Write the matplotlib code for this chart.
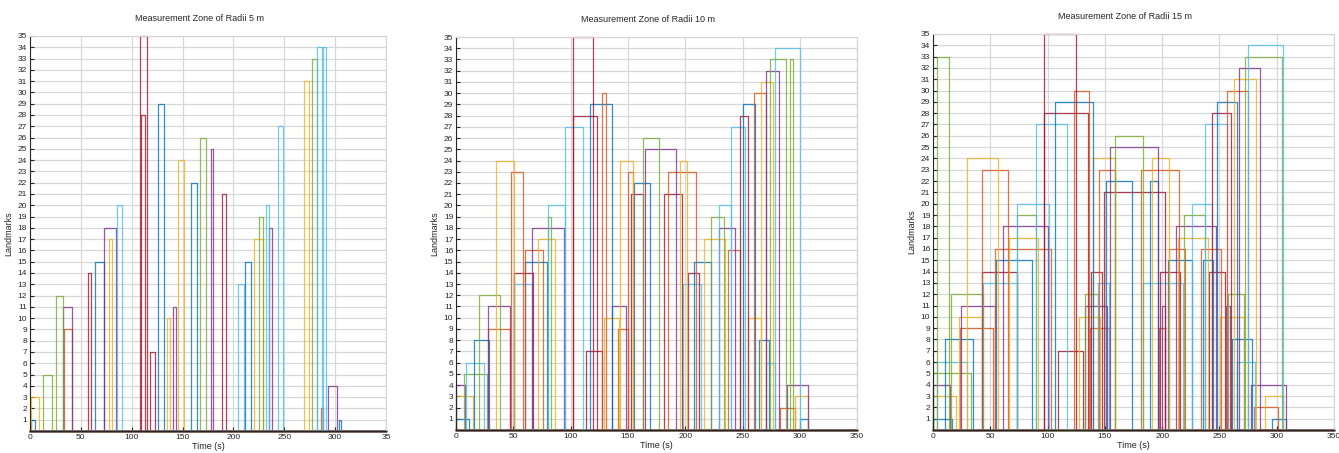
import matplotlib
matplotlib.use('Agg')
import matplotlib.pyplot as plt

plt.rcParams['font.family'] = ['Liberation Sans', 'DejaVu Sans']

# time window during which each landmark is inside the measurement zone
# (landmark id, enter time, leave time) read off the figure
lm_5 = [1, 1, 2, 3, 4, 5, 7, 9, 10, 11, 11, 12, 13, 14, 15, 15, 17, 17,
        18, 18, 19, 20, 20, 21, 22, 24, 25, 26, 27, 28, 29, 31, 33, 34, 34, 35]
t_in_5 = [1, 304, 286, 0.7, 293.3, 12.5, 118.3, 33.8, 134.4, 32.8, 141, 25.2,
          204.2, 57.4, 63.9, 211.1, 77.4, 220.6, 73.1, 235.3, 225.2, 85.2,
          231.7, 188.5, 158, 145.9, 178, 167.5, 243.9, 109.5, 126.2, 269.4,
          277.6, 281.9, 288.4, 108.5]
t_out_5 = [5, 306, 288.4, 9.2, 302.2, 21.3, 123.2, 41.3, 137.3, 41, 143.2,
           32.8, 210.8, 60.3, 73.1, 217.3, 80.3, 229.4, 84.6, 237.6, 229.4,
           90.5, 235.3, 192.7, 163.9, 151.1, 179.6, 173.4, 249.1, 112.7,
           131.4, 274, 281.9, 287.1, 291, 114.7]

lm_10 = [1, 1, 2, 3, 3, 4, 4, 5, 6, 6, 7, 8, 8, 9, 9, 10, 10, 11, 11, 12,
         13, 13, 14, 14, 15, 15, 16, 16, 17, 17, 18, 18, 19, 19, 20, 20,
         21, 21, 22, 23, 23, 23, 24, 24, 24, 25, 26, 27, 27, 28, 28, 29, 29,
         30, 30, 31, 32, 33, 33, 34, 35]
t_in_10 = [0, 299.9, 283, 0, 296.1, 0, 288.8, 7, 8.7, 270.2, 113.8, 15.4,
           264.4, 28, 141, 129.5, 254.8, 28, 136, 19.8, 50.3, 198, 50.3,
           202.1, 60, 207.7, 60, 237, 71.6, 216.7, 66.6, 229.8, 80, 222.2,
           80, 229.2, 153, 181.2, 155, 47.7, 149.8, 184.7, 35.2, 142.9, 195.1,
           164.7, 163.2, 94.8, 240.2, 101.8, 247.8, 116.7, 250.4, 127.4,
           259.7, 266.1, 270.5, 274.3, 291.7, 278.3, 101.8]
t_out_10 = [11, 307.1, 296.1, 14.5, 307.1, 7.6, 307.1, 27, 24.7, 278.3,
            127.4, 29, 273.4, 46.8, 150, 142, 266.1, 47.4, 148, 38.7, 66.3,
            214, 67, 212.3, 79.4, 222.2, 76, 247.8, 86.4, 234.4, 94.3, 243.1,
            83.2, 233.8, 94.8, 240.2, 163.2, 197.2, 169, 58.2, 154.5, 209.7,
            50.9, 154.5, 201.8, 192, 177.4, 110.6, 252.5, 122.8, 254.5, 136.5,
            260.9, 131, 270.8, 276.6, 281.8, 288.2, 294.1, 299.9, 119.3]

lm_15 = [1, 1, 2, 3, 3, 4, 4, 5, 6, 6, 7, 8, 8, 9, 9, 9, 10, 10, 10,
         11, 11, 11, 11, 12, 12, 12, 13, 13, 13, 14, 14, 14, 14, 15, 15, 15,
         16, 16, 16, 17, 17, 18, 18, 19, 19, 20, 20, 21, 22, 22, 23, 23, 23,
         24, 24, 24, 25, 26, 27, 27, 28, 28, 29, 29, 30, 30, 31, 32, 33, 33,
         34, 35]
t_in_15 = [0, 295.5, 280.4, 0, 289.7, 0, 277.5, 0, 3.8, 265, 109.4, 10.5,
           260.6, 23.6, 137, 197.5, 23, 127, 250.4, 24, 133, 200, 255.4, 15.4,
           133, 257.7, 44, 144, 183.5, 43, 138, 198.4, 241.1, 54.7, 204.8,
           235.9, 54, 205.6, 234.2, 66, 213.5, 61.4, 211.8, 73.6, 218.7, 73.6,
           225.7, 149, 151, 189.6, 42.5, 145, 181.2, 30, 139.7, 191, 154.2,
           158.9, 90, 237, 97.2, 243.8, 106.5, 247.5, 123.4, 256.8, 263,
           267.3, 3.8, 272, 275.2, 97.2]
t_out_15 = [16.6, 307.8, 301.3, 20, 305.7, 14.8, 307.8, 33, 30, 281, 131.2,
            35, 278, 52.7, 154, 202.5, 42.5, 145.8, 271.1, 54, 151.6, 202.4,
            259.2, 44, 144, 271.1, 73, 154, 218.4, 73.6, 147.8, 215.8, 254.8,
            86.4, 226.3, 244.6, 102.7, 219.9, 251.6, 92, 240.3, 100.7, 247,
            90, 237.6, 101, 243.5, 202.5, 174, 196.6, 65.7, 159, 214.7, 56.4,
            158.9, 206.2, 196.6, 183, 117, 256.3, 135.6, 259.8, 139.7, 265.6,
            135.9, 274.6, 281.9, 285.6, 14.3, 304.8, 305.7, 124.5]

radii = [5, 10, 15]
n_landmarks = 35
t_end = 350
xtick_labels_5 = ['0', '50', '100', '150', '200', '250', '300', '35']
xtick_labels = ['0', '50', '100', '150', '200', '250', '300', '350']

# matlab default line colours
colors = ['#0072BD', '#D95319', '#EDB120', '#7E2F8E', '#77AC30', '#4DBEEE', '#A2142F']

fig = plt.figure(figsize=(13.39, 4.53), dpi=100)
ax1 = fig.add_axes([0.0224, 0.0486, 0.2659, 0.872])
ax2 = fig.add_axes([0.3406, 0.0508, 0.2995, 0.8675])
ax3 = fig.add_axes([0.6968, 0.0508, 0.2995, 0.8742])

panels = [(ax1, lm_5, t_in_5, t_out_5, xtick_labels_5, 0.475),
          (ax2, lm_10, t_in_10, t_out_10, xtick_labels, 0.478),
          (ax3, lm_15, t_in_15, t_out_15, xtick_labels, 0.478)]

for r, (ax, lm, t_in, t_out, xl, tx) in zip(radii, panels):
    # one step curve per landmark: k while in range, 0 otherwise
    for k in range(1, n_landmarks + 1):
        spans = sorted((a, b) for l, a, b in zip(lm, t_in, t_out) if l == k)
        xs = [0]
        ys = [0]
        for a, b in spans:
            xs += [a, a, b, b]
            ys += [0, k, k, 0]
        xs.append(t_end)
        ys.append(0)
        ax.plot(xs, ys, color=colors[(k - 1) % 7], lw=0.9, alpha=0.8,
                clip_on=False)

    ax.set_xlim(0, t_end)
    ax.set_ylim(0, n_landmarks)
    ax.set_xticks(range(0, t_end + 1, 50))
    ax.set_xticklabels(xl)
    ax.set_yticks(range(1, n_landmarks + 1))
    ax.grid(True, color='#d8d8d8', lw=0.9)
    ax.set_axisbelow(True)
    ax.tick_params(direction='in', length=3, width=0.8, labelsize=6,
                   colors='#262626', pad=2)
    for s in ['left', 'bottom']:
        ax.spines[s].set_color('#262626')
        ax.spines[s].set_linewidth(0.8)
    for s in ['top', 'right']:
        ax.spines[s].set_color('#d4d4d4')
        ax.spines[s].set_linewidth(0.8)
    ax.set_title('Measurement Zone of Radii %d m' % r, fontsize=6.5,
                 x=tx, pad=11, color='#262626')
    ax.set_xlabel('Time (s)', fontsize=6.5, labelpad=1, color='#262626')
    ax.set_ylabel('Landmarks', fontsize=6.5, labelpad=3, color='#262626')

fig.savefig('out.png', dpi=100)
